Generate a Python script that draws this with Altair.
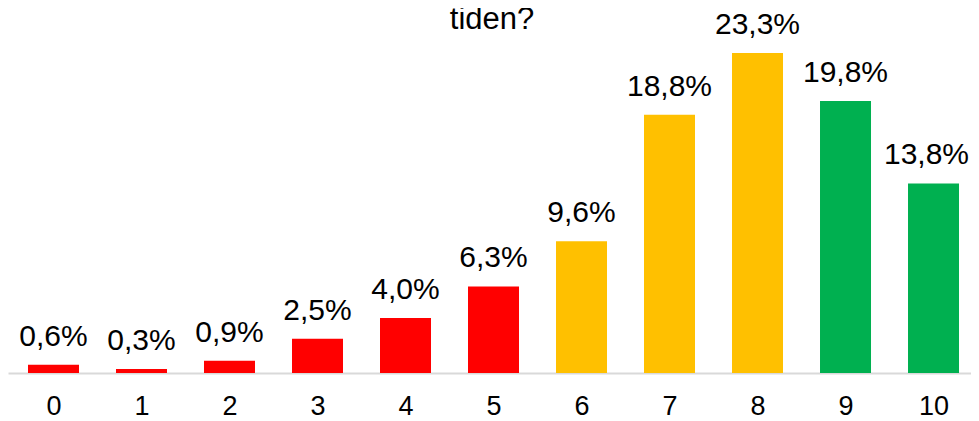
import altair as alt
import pandas as pd

categories = [0, 1, 2, 3, 4, 5, 6, 7, 8, 9, 10]
values = [0.6, 0.3, 0.9, 2.5, 4.0, 6.3, 9.6, 18.8, 23.3, 19.8, 13.8]
groups = ["low", "low", "low", "low", "low", "low", "mid", "mid", "mid", "high", "high"]
title_text = ["tiden?"]

df = pd.DataFrame({
    "cat": categories,
    "val": values,
    "grp": groups,
    "label": [f"{v:.1f}%".replace(".", ",") for v in values],
})

FONT = "Liberation Sans"

x = alt.X("cat:Q",
          scale=alt.Scale(domain=[-0.517, 10.426], nice=False, zero=False, padding=0),
          axis=alt.Axis(values=categories, title=None, grid=False, ticks=False,
                        domainColor="#d9d9d9", domainWidth=2,
                        labelFontSize=27, labelFont=FONT, labelColor="#000000",
                        labelPadding=20, format="d"))
y = alt.Y("val:Q", scale=alt.Scale(domain=[0, 26.58], nice=False, padding=0), axis=None)

base = alt.Chart(df)

bars = base.mark_bar(size=51).encode(
    x=x, y=y,
    color=alt.Color("grp:N",
                    scale=alt.Scale(domain=["low", "mid", "high"],
                                    range=["#FF0000", "#FFC000", "#00B050"]),
                    legend=None),
)

label_props = dict(fontSize=30, font=FONT, color="#000000", baseline="alphabetic", dy=-19)

labels = base.transform_filter(alt.datum.cat < 10).mark_text(**label_props).encode(
    x=alt.X("cat:Q"), y=alt.Y("val:Q"), text="label:N")

labels_last = base.transform_filter(alt.datum.cat >= 10).mark_text(dx=-7, **label_props).encode(
    x=alt.X("cat:Q"), y=alt.Y("val:Q"), text="label:N")

title = alt.Chart(pd.DataFrame({"t": title_text})).mark_text(
    fontSize=31, font=FONT, color="#000000", baseline="alphabetic", align="center"
).encode(text="t:N", x=alt.value(484), y=alt.value(21))

chart = alt.layer(bars, labels, labels_last, title).properties(
    width=963, height=365,
    autosize=alt.AutoSizeParams(type="none"),
    padding={"left": 0, "top": 0, "right": 0, "bottom": 48},
).configure_view(stroke=None)

chart.save("out.html", embed_options={"renderer": "svg", "actions": False})
